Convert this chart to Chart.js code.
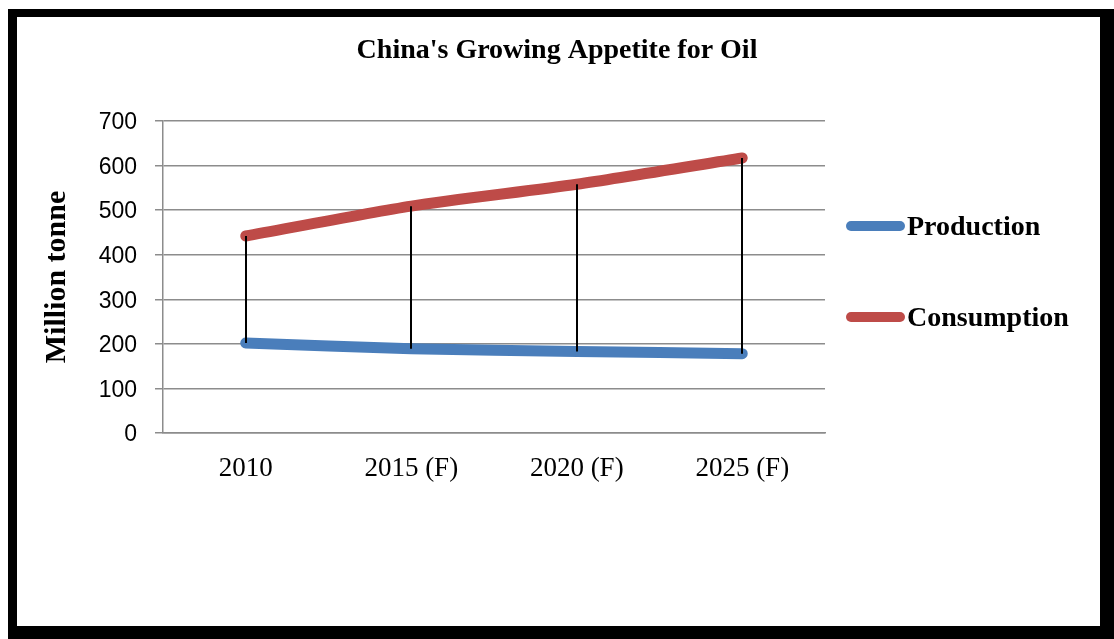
<!DOCTYPE html>
<html><head><meta charset="utf-8">
<script src="https://cdn.jsdelivr.net/npm/chart.js@4.4.1/dist/chart.umd.min.js"></script>
<style>
html,body{margin:0;padding:0;background:#fff;width:1114px;height:639px;overflow:hidden;}
#frame{position:absolute;left:8px;top:9px;width:1106px;height:630px;background:#000;}
#inner{position:absolute;left:17px;top:17px;width:1083px;height:609px;background:#fff;}
#c{position:absolute;left:0;top:0;}
</style></head><body>
<div id="frame"></div><div id="inner"></div>
<canvas id="c" width="1114" height="639"></canvas>
<script>
const chartTitle = "China's Growing Appetite for Oil";
const yAxisTitle = "Million tonne";
const categories = ["2010", "2015 (F)", "2020 (F)", "2025 (F)"];
const seriesNames = ["Production", "Consumption"];
const production = [202, 189, 183, 178];
const consumption = [442, 509, 558, 617];
const yMin = 0, yMax = 700, yStep = 100;

const SERIF = "'Liberation Serif', 'Times New Roman', serif";
const SANS = "'Liberation Sans', Arial, sans-serif";
const colors = ["#4A7EBB", "#BE4B48"];

const dropLines = {
  id: 'dropLines',
  afterDatasetsDraw(chart) {
    const ctx = chart.ctx, xs = chart.scales.x, ys = chart.scales.y;
    ctx.save();
    ctx.strokeStyle = '#000';
    ctx.lineWidth = 2;
    categories.forEach((c, i) => {
      const px = Math.round(xs.getPixelForValue(i));
      ctx.beginPath();
      ctx.moveTo(px, ys.getPixelForValue(consumption[i]));
      ctx.lineTo(px, ys.getPixelForValue(production[i]));
      ctx.stroke();
    });
    ctx.restore();
  }
};

const sideLegend = {
  id: 'sideLegend',
  afterDraw(chart) {
    const ctx = chart.ctx;
    const rows = [226, 317];
    ctx.save();
    chart.data.datasets.forEach((ds, i) => {
      const y = rows[i];
      ctx.strokeStyle = ds.borderColor;
      ctx.lineWidth = 10;
      ctx.lineCap = 'round';
      ctx.beginPath();
      ctx.moveTo(851, y);
      ctx.lineTo(900, y);
      ctx.stroke();
      ctx.fillStyle = '#000';
      ctx.font = "bold 28px " + SERIF;
      ctx.textAlign = 'left';
      ctx.textBaseline = 'middle';
      ctx.fillText(ds.label, 907, y + 2);
    });
    ctx.restore();
  }
};

new Chart(document.getElementById('c'), {
  type: 'line',
  data: {
    labels: categories,
    datasets: [
      { label: seriesNames[0], data: production, borderColor: colors[0], backgroundColor: colors[0],
        borderWidth: 11, pointRadius: 0, tension: 0.25, borderCapStyle: 'round', borderJoinStyle: 'round' },
      { label: seriesNames[1], data: consumption, borderColor: colors[1], backgroundColor: colors[1],
        borderWidth: 11, pointRadius: 0, tension: 0.25, borderCapStyle: 'round', borderJoinStyle: 'round' }
    ]
  },
  options: {
    responsive: false,
    animation: false,
    devicePixelRatio: 1,
    layout: { padding: 0 },
    plugins: {
      legend: { display: false },
      tooltip: { enabled: false },
      title: {
        display: true, text: chartTitle, color: '#000',
        font: { family: SERIF, size: 28, weight: 'bold' },
        padding: { top: 34, bottom: 53.4 }
      }
    },
    scales: {
      x: {
        type: 'category', offset: true,
        grid: { display: false, drawTicks: false },
        border: { display: true, color: '#8c8c8c', width: 1.5 },
        ticks: { color: '#000', font: { family: SERIF, size: 27 }, padding: 20, maxRotation: 0 },
        afterFit(s) { s.height = 206; }
      },
      y: {
        min: yMin, max: yMax,
        grid: { color: '#8c8c8c', lineWidth: 1.5, tickLength: 8, drawTicks: true },
        border: { display: true, color: '#8c8c8c', width: 1.5 },
        ticks: { stepSize: yStep, color: '#000', font: { family: SANS, size: 23 }, padding: 18, labelOffset: 2 },
        title: { display: true, text: yAxisTitle, color: '#000',
                 font: { family: SERIF, size: 30, weight: 'bold' }, padding: { top: 39, bottom: 0 } },
        afterFit(s) { s.width = 163; }
      },
      yR: {
        position: 'right', display: true,
        grid: { display: false }, border: { display: false }, ticks: { display: false },
        afterFit(s) { s.width = 289; }
      }
    }
  },
  plugins: [dropLines, sideLegend]
});
</script>
</body></html>
